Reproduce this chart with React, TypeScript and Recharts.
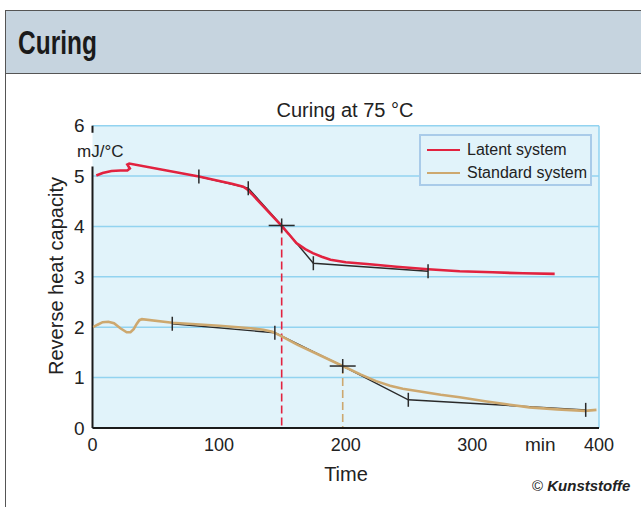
import React from "react";
import {
  LineChart,
  Line,
  XAxis,
  YAxis,
  CartesianGrid,
  ReferenceLine,
} from "recharts";

// measured curves (time in min, reverse heat capacity in mJ/°C)
const latentCurve = [
  { t: 3, c: 5.01 },
  { t: 8, c: 5.06 },
  { t: 15, c: 5.1 },
  { t: 22, c: 5.11 },
  { t: 27.5, c: 5.11 },
  { t: 29.5, c: 5.15 },
  { t: 27.5, c: 5.23 },
  { t: 29, c: 5.25 },
  { t: 84, c: 4.99 },
  { t: 110, c: 4.85 },
  { t: 119, c: 4.79 },
  { t: 122, c: 4.74 },
  { t: 126, c: 4.64 },
  { t: 149, c: 4.02 },
  { t: 155, c: 3.85 },
  { t: 161, c: 3.67 },
  { t: 168, c: 3.55 },
  { t: 174, c: 3.47 },
  { t: 181, c: 3.4 },
  { t: 188, c: 3.34 },
  { t: 200, c: 3.29 },
  { t: 219, c: 3.25 },
  { t: 240, c: 3.2 },
  { t: 265, c: 3.15 },
  { t: 290, c: 3.11 },
  { t: 316, c: 3.09 },
  { t: 340, c: 3.07 },
  { t: 365, c: 3.06 },
];

const standardCurve = [
  { t: 0.5, c: 2.0 },
  { t: 4, c: 2.05 },
  { t: 8, c: 2.1 },
  { t: 12.5, c: 2.11 },
  { t: 17, c: 2.08 },
  { t: 22, c: 1.98 },
  { t: 27, c: 1.9 },
  { t: 30, c: 1.9 },
  { t: 32.5, c: 1.96 },
  { t: 35, c: 2.07 },
  { t: 37, c: 2.14 },
  { t: 39, c: 2.16 },
  { t: 63, c: 2.09 },
  { t: 100, c: 2.03 },
  { t: 125, c: 1.98 },
  { t: 135, c: 1.95 },
  { t: 142, c: 1.91 },
  { t: 148, c: 1.84 },
  { t: 162, c: 1.65 },
  { t: 180, c: 1.44 },
  { t: 197.6, c: 1.23 },
  { t: 212, c: 1.06 },
  { t: 224, c: 0.93 },
  { t: 235, c: 0.84 },
  { t: 245, c: 0.78 },
  { t: 260, c: 0.72 },
  { t: 275, c: 0.66 },
  { t: 290, c: 0.61 },
  { t: 310, c: 0.53 },
  { t: 327, c: 0.47 },
  { t: 345, c: 0.41 },
  { t: 367, c: 0.37 },
  { t: 389, c: 0.34 },
  { t: 398, c: 0.36 },
];

// tangent constructions with onset points
const latentOnset = { t: 149.4, c: 4.02 };
const standardOnset = { t: 197.6, c: 1.23 };

const latentTangent = [
  { t: 84, c: 4.99 },
  { t: 123, c: 4.76 },
  latentOnset,
  { t: 174.4, c: 3.27 },
  { t: 265, c: 3.11 },
];

const standardTangent = [
  { t: 63, c: 2.07 },
  { t: 144, c: 1.89 },
  standardOnset,
  { t: 249.4, c: 0.56 },
  { t: 389.5, c: 0.36 },
];

const xTicks = [0, 100, 200, 300, 400];
const xInnerTicks = [100, 200, 300];
const yTicks = [0, 1, 2, 3, 4, 5, 6];
const seriesNames = ["Latent system", "Standard system"];

const RED = "#e2223f";
const TAN = "#cda86f";
const GRID = "#92d3f0";
const PLOT_BG = "#e1f3fa";
const FONT = "'Liberation Sans', Arial, sans-serif";

const TangentMark = (props: any) => {
  const { cx, cy, payload, onset } = props;
  if (cx == null || cy == null) return null;
  const isOnset = payload.t === onset.t;
  return (
    <g key={`m-${payload.t}`}>
      <line x1={cx} x2={cx} y1={cy - 7} y2={cy + 7} stroke="#2a2a2a" strokeWidth={1.5} />
      {isOnset && (
        <line x1={cx - 13} x2={cx + 13} y1={cy} y2={cy} stroke="#2a2a2a" strokeWidth={1.5} />
      )}
    </g>
  );
};

export default function App() {
  const colors = [RED, TAN];
  return (
    <div
      style={{
        position: "absolute",
        left: 0,
        top: 0,
        width: 641,
        height: 507,
        overflow: "hidden",
        background: "#fff",
        fontFamily: FONT,
      }}
    >
      {/* frame + header */}
      <div
        style={{
          position: "absolute",
          left: 5,
          top: 10,
          width: 700,
          height: 600,
          border: "1.5px solid #555",
        }}
      >
        <div
          style={{
            height: 62,
            background: "#c6d4df",
            borderBottom: "1.5px solid #555",
            paddingLeft: 12,
            display: "flex",
            alignItems: "center",
          }}
        >
          <span
            style={{
              display: "inline-block",
              fontWeight: 700,
              fontSize: 34,
              color: "#1a1a1a",
              transform: "scaleX(0.72)",
              transformOrigin: "left center",
            }}
          >
            Curing
          </span>
        </div>
      </div>

      <div style={{ position: "absolute", left: 0, top: 0 }}>
        <LineChart
          width={641}
          height={507}
          margin={{ top: 125.7, right: 42, left: 52.5, bottom: 49 }}
        >
          <CartesianGrid
            vertical={false}
            stroke={GRID}
            strokeWidth={1.5}
            fill={PLOT_BG}
          />
          <XAxis
            dataKey="t"
            type="number"
            domain={[0, 400]}
            ticks={xTicks}
            height={30}
            axisLine={{ stroke: "#1a1a1a", strokeWidth: 2 }}
            tickLine={false}
            tickMargin={4}
            tick={{ fill: "#222", fontSize: 18, fontFamily: FONT }}
            allowDataOverflow
          />
          <XAxis
            xAxisId="inner"
            type="number"
            domain={[0, 400]}
            ticks={xInnerTicks}
            mirror
            height={0}
            axisLine={false}
            tick={false}
            tickSize={7}
            tickLine={{ stroke: GRID, strokeWidth: 1.5 }}
          />
          <YAxis
            type="number"
            domain={[0, 6]}
            ticks={yTicks}
            width={40}
            axisLine={false}
            tickLine={false}
            tick={{ fill: "#222", fontSize: 19, fontFamily: FONT }}
          />
          <ReferenceLine x={400} stroke={GRID} strokeWidth={1.5} />
          <ReferenceLine
            segment={[
              { x: 0, y: 0 },
              { x: 0, y: 5.19 },
            ]}
            stroke="#1a1a1a"
            strokeWidth={2}
          />
          <ReferenceLine
            segment={[
              { x: 0, y: 5.86 },
              { x: 0, y: 6 },
            ]}
            stroke="#1a1a1a"
            strokeWidth={2}
          />
          <ReferenceLine
            segment={[
              { x: latentOnset.t, y: latentOnset.c },
              { x: latentOnset.t, y: 0 },
            ]}
            stroke={RED}
            strokeWidth={1.6}
            strokeDasharray="8 4"
          />
          <ReferenceLine
            segment={[
              { x: standardOnset.t, y: standardOnset.c },
              { x: standardOnset.t, y: 0 },
            ]}
            stroke={TAN}
            strokeWidth={1.6}
            strokeDasharray="8 4"
          />

          {/* tangent lines below the curves */}
          <Line
            data={latentTangent}
            dataKey="c"
            type="linear"
            stroke="#2a2a2a"
            strokeWidth={1.4}
            dot={false}
            isAnimationActive={false}
          />
          <Line
            data={standardTangent}
            dataKey="c"
            type="linear"
            stroke="#2a2a2a"
            strokeWidth={1.4}
            dot={false}
            isAnimationActive={false}
          />

          <Line
            data={latentCurve}
            dataKey="c"
            name={seriesNames[0]}
            type="linear"
            stroke={RED}
            strokeWidth={2.6}
            dot={false}
            isAnimationActive={false}
          />
          <Line
            data={standardCurve}
            dataKey="c"
            name={seriesNames[1]}
            type="linear"
            stroke={TAN}
            strokeWidth={2.6}
            dot={false}
            isAnimationActive={false}
          />

          {/* tick marks of the tangent construction on top */}
          <Line
            data={latentTangent}
            dataKey="c"
            type="linear"
            stroke="none"
            dot={(p: any) => <TangentMark {...p} onset={latentOnset} />}
            isAnimationActive={false}
          />
          <Line
            data={standardTangent}
            dataKey="c"
            type="linear"
            stroke="none"
            dot={(p: any) => <TangentMark {...p} onset={standardOnset} />}
            isAnimationActive={false}
          />
        </LineChart>
      </div>

      {/* legend */}
      <div
        style={{
          position: "absolute",
          left: 419,
          top: 134,
          width: 173,
          height: 52,
          boxSizing: "border-box",
          border: "2px solid #a9cbe9",
          background: PLOT_BG,
          padding: "2px 0 0 6px",
          fontSize: 16,
          color: "#222",
        }}
      >
        {seriesNames.map((n, i) => (
          <div key={n} style={{ display: "flex", alignItems: "center", height: 23, whiteSpace: "nowrap" }}>
            <span
              style={{
                display: "inline-block",
                width: 33,
                height: 0,
                borderTop: `2.5px solid ${colors[i]}`,
                marginRight: 7,
              }}
            />
            {n}
          </div>
        ))}
      </div>

      {/* titles and units */}
      <div
        style={{
          position: "absolute",
          left: 245,
          width: 200,
          top: 99,
          textAlign: "center",
          fontSize: 20,
          color: "#222",
        }}
      >
        Curing at 75 °C
      </div>
      <div
        style={{
          position: "absolute",
          left: 77,
          top: 142,
          fontSize: 17,
          color: "#222",
        }}
      >
        mJ/°C
      </div>
      <div
        style={{
          position: "absolute",
          left: 56,
          top: 276,
          transform: "translate(-50%, -50%) rotate(-90deg)",
          whiteSpace: "nowrap",
          fontSize: 20,
          color: "#222",
        }}
      >
        Reverse heat capacity
      </div>
      <div
        style={{
          position: "absolute",
          left: 525,
          top: 434,
          fontSize: 19,
          color: "#222",
        }}
      >
        min
      </div>
      <div
        style={{
          position: "absolute",
          left: 346,
          top: 474,
          transform: "translate(-50%, -50%)",
          fontSize: 20,
          color: "#222",
        }}
      >
        Time
      </div>
      <div
        style={{
          position: "absolute",
          left: 532,
          top: 477,
          fontSize: 15,
          color: "#222",
          whiteSpace: "nowrap",
        }}
      >
        ©{" "}
        <span style={{ fontWeight: 700, fontStyle: "italic" }}>Kunststoffe</span>
      </div>
    </div>
  );
}
